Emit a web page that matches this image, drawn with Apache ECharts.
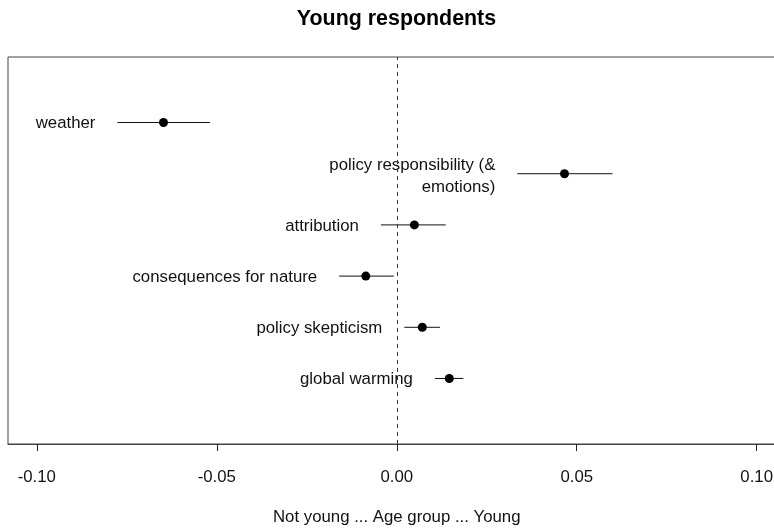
<!DOCTYPE html>
<html>
<head>
<meta charset="utf-8">
<script src="https://cdn.jsdelivr.net/npm/echarts@6/dist/echarts.min.js"></script>
<style>
  html, body { margin: 0; padding: 0; background: #fff; overflow: hidden; }
  /* plot box runs past the right edge of the window, as in the original */
  #chart { width: 793px; height: 531px; }
</style>
</head>
<body>
<div id="chart"></div>
<script>
// effect of age group (young vs not young), one row per topic, top to bottom
var categories = [
  "weather",
  "policy responsibility (&\nemotions)",
  "attribution",
  "consequences for nature",
  "policy skepticism",
  "global warming"
];
var estimates = [-0.0648, 0.0466, 0.0049, -0.0086, 0.0071, 0.0146];
var lower = [-0.0776, 0.0335, -0.0044, -0.0160, 0.0021, 0.0106];
var upper = [-0.0519, 0.0599, 0.0136, -0.0008, 0.0120, 0.0185];
var xTicks = [-0.1, -0.05, 0, 0.05, 0.1];

var FONT = "'Liberation Sans', Arial, sans-serif";

var dom = document.getElementById("chart");
var chart = echarts.init(dom, null, { renderer: "canvas" });

// row position: first category at the top
var rows = categories.map(function (c, i) {
  return categories.length - i;
});

var ciData = categories.map(function (c, i) {
  return [lower[i], upper[i], rows[i], c];
});
var pointData = categories.map(function (c, i) {
  return [estimates[i], rows[i]];
});

var option = {
  backgroundColor: "#fff",
  animation: false,
  title: {
    text: "Young respondents",
    left: "center",
    top: 4,
    textStyle: {
      fontFamily: FONT,
      fontSize: 21.4,
      fontWeight: "bold",
      color: "#000",
    },
  },
  grid: {
    left: 8,
    top: 57,
    right: 7.5,
    bottom: 85,
    show: true,
    borderColor: "#444",
    borderWidth: 1,
    backgroundColor: "transparent",
  },
  xAxis: {
    type: "value",
    min: -0.108,
    max: 0.108,
    name: "Not young ... Age group ... Young",
    nameLocation: "middle",
    nameGap: 65,
    nameTextStyle: { fontFamily: FONT, fontSize: 16.8, color: "#111" },
    splitLine: { show: false },
    axisLine: { show: true, onZero: false, lineStyle: { color: "#444", width: 1 } },
    axisTick: {
      show: true,
      length: 7,
      customValues: xTicks,
      lineStyle: { color: "#222" },
    },
    axisLabel: {
      customValues: xTicks,
      margin: 25,
      fontFamily: FONT,
      fontSize: 16.8,
      color: "#111",
      formatter: function (v) {
        return v.toFixed(2);
      },
    },
  },
  yAxis: {
    type: "value",
    min: -0.28,
    max: 7.28,
    show: false,
  },
  series: [
    {
      name: "CI",
      type: "custom",
      data: ciData,
      encode: { x: [0, 1], y: 2 },
      renderItem: function (params, api) {
        var a = api.coord([api.value(0), api.value(2)]);
        var b = api.coord([api.value(1), api.value(2)]);
        var label = categories[params.dataIndex];
        return {
          type: "group",
          children: [
            {
              type: "line",
              shape: { x1: a[0], y1: a[1], x2: b[0], y2: b[1] },
              style: { stroke: "#111", lineWidth: 1 },
            },
            {
              type: "text",
              style: {
                text: label,
                x: a[0] - 22,
                y: a[1] + (label.indexOf("\n") >= 0 ? 3 : 1),
                align: "right",
                verticalAlign: "middle",
                fontFamily: FONT,
                fontSize: 16.8,
                lineHeight: 22,
                fill: "#111",
              },
            },
          ],
        };
      },
      markLine: {
        silent: true,
        symbol: "none",
        label: { show: false },
        lineStyle: { color: "#333", type: [4, 4], width: 1 },
        data: [{ xAxis: 0 }],
      },
    },
    {
      name: "estimate",
      type: "scatter",
      data: pointData,
      symbol: "circle",
      symbolSize: 9,
      itemStyle: { color: "#000", opacity: 1 },
    },
  ],
};

chart.setOption(option);
window.addEventListener("resize", chart.resize);
</script>
</body>
</html>
